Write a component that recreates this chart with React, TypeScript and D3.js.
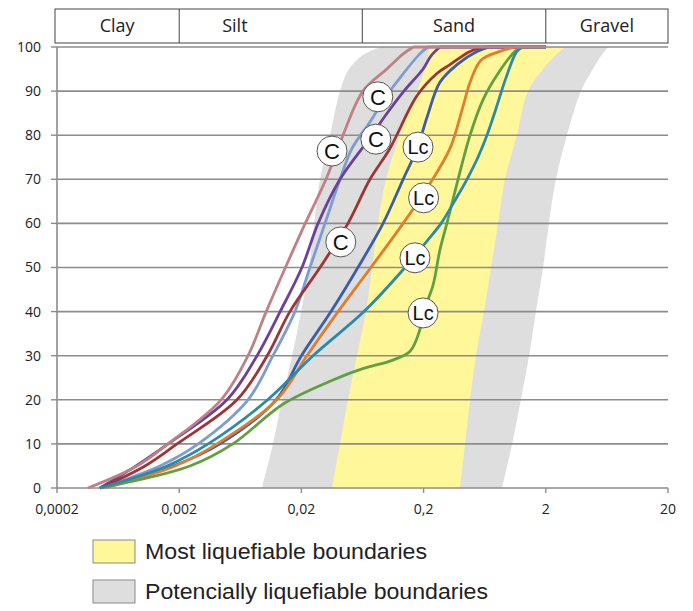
import React from "react";
import * as d3 from "d3";

const W = 693;
const H = 611;

// axis ticks
const xTicks = [0.0002, 0.002, 0.02, 0.2, 2, 20];
const xTickLabels = ["0,0002", "0,002", "0,02", "0,2", "2", "20"];
const yTicks = [0, 10, 20, 30, 40, 50, 60, 70, 80, 90, 100];

// grain-size classes
const classNames = ["Clay", "Silt", "Sand", "Gravel"];
const classBounds = [0.0002, 0.002, 0.063, 2, 20];

// liquefaction boundary bands (percent passing levels, diameters in mm)
const bandPct = [0, 10, 20, 30, 40, 50, 60, 70, 80, 90, 95, 98, 100];
const grayLeft = [0.0095, 0.0117, 0.0139, 0.0168, 0.0199, 0.0231, 0.0254, 0.0284, 0.0343, 0.0414, 0.049, 0.0626, 0.088];
const grayRight = [0.877, 1.06, 1.25, 1.46, 1.66, 1.9, 2.12, 2.42, 2.98, 3.88, 4.86, 5.68, 6.46];
const yellowLeft = [0.0356, 0.0414, 0.0481, 0.057, 0.0676, 0.0757, 0.0847, 0.0984, 0.128, 0.177, 0.205, 0.217, 0.225];
const yellowRight = [0.397, 0.437, 0.48, 0.537, 0.624, 0.713, 0.813, 0.927, 1.16, 1.43, 1.9, 2.38, 2.87];

// grading curves: [diameter mm, percent passing]
const rose: [number, number][] = [
  [0.000358, 0], [0.000904, 5], [0.00162, 10], [0.0044, 20], [0.00731, 30], [0.0103, 40],
  [0.0148, 50], [0.0215, 60], [0.0318, 70], [0.0438, 80], [0.0638, 90], [0.1, 95], [0.137, 98.5], [0.165, 100],
];
const purple: [number, number][] = [
  [0.00045, 0], [0.000886, 5], [0.00162, 10], [0.00492, 20], [0.00867, 30], [0.0134, 40],
  [0.0202, 50], [0.0274, 60], [0.0414, 70], [0.0757, 80], [0.0948, 84], [0.138, 90], [0.198, 95], [0.23, 98], [0.272, 100],
];
const darkRed: [number, number][] = [
  [0.00045, 0], [0.00105, 5], [0.00192, 10], [0.00594, 20], [0.0105, 30], [0.0161, 40],
  [0.0284, 50], [0.0481, 60], [0.0728, 70], [0.106, 77], [0.177, 89], [0.257, 94], [0.329, 96], [0.48, 99], [0.635, 100],
];
const lightBlue: [number, number][] = [
  [0.00045, 0], [0.00139, 5], [0.00286, 10], [0.00731, 20], [0.0117, 30], [0.0177, 40],
  [0.0235, 50], [0.0312, 60], [0.0414, 70], [0.0519, 77], [0.0728, 83], [0.1, 89], [0.128, 93], [0.187, 98.5], [0.217, 100],
];
const blue: [number, number][] = [
  [0.00045, 0], [0.00179, 5], [0.00431, 10], [0.0124, 20], [0.02, 30], [0.0349, 40],
  [0.058, 50], [0.0932, 60], [0.136, 70], [0.177, 77], [0.213, 84], [0.272, 92], [0.375, 96], [0.547, 99], [0.698, 100],
];
const orange: [number, number][] = [
  [0.000494, 0], [0.00185, 5], [0.00408, 10], [0.0126, 20], [0.0222, 30], [0.0399, 40],
  [0.0741, 50], [0.136, 60], [0.225, 69], [0.329, 77], [0.42, 86.5], [0.48, 92], [0.59, 97], [0.844, 99], [1.12, 100],
];
const teal: [number, number][] = [
  [0.00045, 0], [0.00159, 5], [0.00345, 10], [0.0106, 20], [0.0249, 30], [0.065, 40],
  [0.141, 50], [0.213, 56], [0.278, 60], [0.375, 66], [0.453, 70], [0.557, 75], [0.66, 80], [0.782, 86],
  [0.944, 93], [1.16, 99], [1.3, 100],
];
const green: [number, number][] = [
  [0.00045, 0], [0.00245, 5], [0.0055, 10], [0.0141, 19], [0.0363, 24.5], [0.0626, 27], [0.112, 29],
  [0.155, 31], [0.187, 36], [0.2, 40], [0.239, 46], [0.272, 54], [0.317, 61], [0.375, 69], [0.48, 80],
  [0.612, 88], [0.813, 94], [1.12, 99], [1.28, 100],
];
const curveEnd = 2; // curves run along 100 % up to 2 mm

const curves = [
  { data: lightBlue, color: "#7b9dd2" },
  { data: purple, color: "#6a4399" },
  { data: darkRed, color: "#9e3535" },
  { data: blue, color: "#3c5ea8" },
  { data: orange, color: "#e27d2c" },
  { data: green, color: "#61a040" },
  { data: teal, color: "#2a8aae" },
  { data: rose, color: "#c17f86" },
];

// circle annotations
const markLabels = ["C", "C", "C", "C", "Lc", "Lc", "Lc", "Lc"];
const markD = [0.0844, 0.0813, 0.0356, 0.042, 0.18, 0.2, 0.17, 0.198];
const markP = [88.7, 79.1, 76.4, 55.8, 77.3, 65.8, 52.2, 39.7];

// legend
const legendLabels = ["Most liquefiable boundaries", "Potencially liquefiable boundaries"];
const legendColors = ["#fff799", "#dedede"];
const legendWidths = [282, 343];

const x = d3.scaleLog().domain([0.0002, 20]).range([57, 668]);
const y = d3.scaleLinear().domain([0, 100]).range([488, 47]);

export default function App() {
  const bandArea = (l: number[], r: number[]) =>
    d3
      .area<number>()
      .y((_, i) => y(bandPct[i]))
      .x0((_, i) => x(l[i]))
      .x1((_, i) => x(r[i]))
      .curve(d3.curveCatmullRom.alpha(0.5))(bandPct) || "";

  const line = d3
    .line<[number, number]>()
    .x((d) => x(d[0]))
    .y((d) => y(d[1]))
    .curve(d3.curveCatmullRom.alpha(0.5));

  const font = "'Open Sans', sans-serif";
  const headTop = 9;
  const headBot = 43;

  return (
    <svg
      width={W}
      height={H}
      style={{ position: "absolute", left: 0, top: 0, background: "#fff" }}
    >
      {/* bands */}
      <path d={bandArea(grayLeft, grayRight)} fill="#dedede" />
      <path d={bandArea(yellowLeft, yellowRight)} fill="#fff799" />

      {/* gridlines */}
      {yTicks.map((t) => (
        <line key={t} x1={x(0.0002)} x2={x(20)} y1={y(t)} y2={y(t)} stroke="#8c8c8c" strokeWidth={1.6} />
      ))}

      {/* y axis */}
      <line x1={x(0.0002)} x2={x(0.0002)} y1={y(0)} y2={y(100)} stroke="#8c8c8c" strokeWidth={1.6} />
      {yTicks.map((t) => (
        <g key={"yt" + t}>
          <line x1={x(0.0002) - 6} x2={x(0.0002)} y1={y(t)} y2={y(t)} stroke="#8c8c8c" strokeWidth={1.4} />
          <text x={41} y={y(t)} dy="0.35em" textAnchor="end" fontSize={14} fontFamily={font} fill="#222">
            {t}
          </text>
        </g>
      ))}

      {/* x axis */}
      {xTicks.map((t, i) => (
        <g key={"xt" + t}>
          <line x1={x(t)} x2={x(t)} y1={y(0)} y2={y(0) + 5} stroke="#8c8c8c" strokeWidth={1.4} />
          <text x={x(t)} y={y(0) + 21} dy="0.35em" textAnchor="middle" fontSize={14} fontFamily={font} fill="#222">
            {xTickLabels[i]}
          </text>
        </g>
      ))}

      {/* curves */}
      {curves.map((c, i) => {
        const last = c.data[c.data.length - 1];
        const d = (line(c.data) || "") + `L${x(curveEnd)},${y(last[1])}`;
        return <path key={i} d={d} fill="none" stroke={c.color} strokeWidth={2.8} strokeLinejoin="round" />;
      })}

      {/* annotations */}
      {markLabels.map((t, i) => (
        <g key={"m" + i} transform={`translate(${x(markD[i])},${y(markP[i])})`}>
          <circle r={15} fill="#fff" stroke="#555" strokeWidth={1} />
          <text
            textAnchor="middle"
            dy="0.36em"
            fontSize={t === "C" ? 22 : 20}
            fontFamily="'Liberation Sans', Arial, sans-serif"
            fill="#111"
          >
            {t}
          </text>
        </g>
      ))}

      {/* class header */}
      <rect x={55} y={headTop} width={x(20) - 55} height={headBot - headTop} fill="#fff" stroke="#444" strokeWidth={1} />
      {classNames.map((n, i) => {
        const a = i === 0 ? 55 : x(classBounds[i]);
        const b = x(classBounds[i + 1]);
        const isSilt = n === "Silt";
        return (
          <g key={n}>
            {i > 0 && <line x1={a} x2={a} y1={headTop} y2={headBot} stroke="#444" strokeWidth={1} />}
            <text
              x={isSilt ? a + 43 : (a + b) / 2}
              y={(headTop + headBot) / 2}
              dy="0.35em"
              textAnchor={isSilt ? "start" : "middle"}
              fontSize={18}
              fontFamily={font}
              fill="#222"
            >
              {n}
            </text>
          </g>
        );
      })}

      {/* legend */}
      {legendLabels.map((l, i) => (
        <g key={l} transform={`translate(93,${540 + i * 40})`}>
          <rect width={42} height={23} fill={legendColors[i]} stroke="#8a8a8a" strokeWidth={1} />
          <text
            x={52}
            y={19}
            fontSize={21.5}
            textLength={legendWidths[i]}
            lengthAdjust="spacingAndGlyphs"
            fontFamily="'Liberation Sans', Arial, sans-serif"
            fill="#222"
          >
            {l}
          </text>
        </g>
      ))}
    </svg>
  );
}
